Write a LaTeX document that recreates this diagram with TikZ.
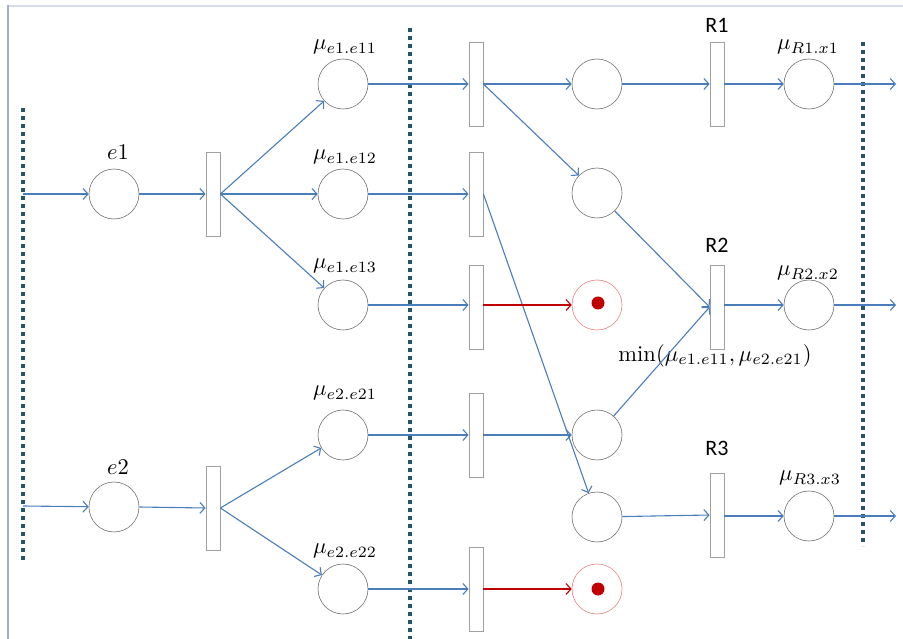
\documentclass[tikz,border=0pt]{standalone}
\usepackage{fontspec}
\newfontfamily\calfont{Carlito}
\usetikzlibrary{arrows.meta}
\definecolor{edgeblue}{RGB}{74,126,187}
\definecolor{darkred}{RGB}{192,0,0}
\definecolor{lightred}{RGB}{232,128,128}
\definecolor{teal}{RGB}{36,88,104}
\definecolor{framebl}{RGB}{160,176,200}
\definecolor{frametop}{RGB}{214,219,232}
\definecolor{placegray}{RGB}{110,110,110}
\definecolor{transgray}{RGB}{160,160,160}
\tikzset{
  place/.style={circle,draw=placegray,line width=0.6pt,minimum size=50pt,inner sep=0pt},
  redplace/.style={circle,draw=lightred,line width=0.6pt,minimum size=50pt,inner sep=0pt},
  trans/.style={rectangle,draw=transgray,line width=0.8pt,minimum width=14pt,minimum height=84pt,inner sep=0pt},
  arc/.style={draw=edgeblue,line width=1.1pt,-{Straight Barb[length=5pt,width=11pt,line width=1.1pt]}},
  redarc/.style={draw=darkred,line width=1.1pt,-{Straight Barb[length=5pt,width=11pt,line width=1.1pt]}},
  sep/.style={draw=teal,line width=4pt,dash pattern=on 4pt off 4pt},
  mlab/.style={scale=2.25,inner sep=0pt},
  rlab/.style={font=\calfont\fontsize{22}{26}\selectfont,inner sep=0pt}
}
\begin{document}
\begin{tikzpicture}[x=1pt,y=-1pt]
\useasboundingbox (0,0) rectangle (903,639);
% frame
\draw[frametop,line width=2pt] (8,6) -- (903,6);
\draw[framebl,line width=1.5pt] (8,5) -- (8,639);
% separators
\draw[sep] (23,108) -- (23,560);
\draw[sep] (410,28) -- (410,639);
\draw[sep] (863,42) -- (863,546);
% input coordinates
\coordinate (in1) at (23,194);
\coordinate (in2) at (23,506);
% places
\node[place] (e1) at (114,194) {};
\node[place] (e2) at (114,507) {};
\node[place] (m11) at (343,84) {};
\node[place] (m12) at (343,194) {};
\node[place] (m13) at (343,305) {};
\node[place] (m21) at (343,435) {};
\node[place] (m22) at (343,589) {};
\node[place] (c1) at (597,84) {};
\node[place] (c2) at (597,193) {};
\node[redplace] (c3) at (597,305) {};
\node[place] (c4) at (597,435) {};
\node[place] (c5) at (597,517) {};
\node[redplace] (c6) at (597,589) {};
\node[place] (o1) at (809,84) {};
\node[place] (o2) at (809,305) {};
\node[place] (o3) at (809,516) {};
\fill[darkred] (c3.center) ++(1,-2) circle (6.5);
\fill[darkred] (c6.center) ++(1,0) circle (6.5);
% transitions
\node[trans] (te1) at (213,194) {};
\node[trans] (te2) at (213,508) {};
\node[trans] (t1) at (476,84) {};
\node[trans] (t2) at (476,194) {};
\node[trans] (t3) at (476,307) {};
\node[trans] (t4) at (476,435) {};
\node[trans] (t5) at (476,589) {};
\node[trans] (r1) at (717,84) {};
\node[trans] (r2) at (717,307) {};
\node[trans] (r3) at (717,515) {};
% output coordinates
\coordinate (out1) at (896,84);
\coordinate (out2) at (896,305);
\coordinate (out3) at (896,516);
% labels
\node[mlab] (le1) at (118,152) {$e1$};
\node[mlab] (le2) at (118,467) {$e2$};
\node[mlab] (l11) at (345,47) {$\mu_{e1.e11}$};
\node[mlab] (l12) at (345,157) {$\mu_{e1.e12}$};
\node[mlab] (l13) at (345,266) {$\mu_{e1.e13}$};
\node[mlab] (l21) at (345,393) {$\mu_{e2.e21}$};
\node[mlab] (l22) at (345,551) {$\mu_{e2.e22}$};
\node[mlab] (lo1) at (808,47) {$\mu_{R1.x1}$};
\node[mlab] (lo2) at (808,273) {$\mu_{R2.x2}$};
\node[mlab] (lo3) at (810,478) {$\mu_{R3.x3}$};
\node[rlab] (lr1) at (717,25) {R1};
\node[rlab] (lr2) at (717,245) {R2};
\node[rlab] (lr3) at (717,448) {R3};
\node[mlab] (lmin) at (715,356) {$\mathrm{min}(\mu_{e1.e11},\mu_{e2.e21})$};
% arcs
\draw[arc] (in1) -- (e1);
\draw[arc] (in2) -- (e2);
\draw[arc] (e1) -- (te1.west);
\draw[arc] (e2.east) -- (te2.west);
\draw[arc] (te1.east) -- (m11);
\draw[arc] (te1.east) -- (m12);
\draw[arc] (te1.east) -- (m13);
\draw[arc] (te2.east) -- (m21);
\draw[arc] (te2.east) -- (m22);
\draw[arc] (m11) -- (t1.west);
\draw[arc] (m12) -- (t2.west);
\draw[arc] (m13) -- (t3.west |- m13);
\draw[arc] (m21) -- (t4.west);
\draw[arc] (m22) -- (t5.west);
\draw[arc] (t1.east) -- (c1);
\draw[arc] (t1.east) -- (c2);
\draw[arc] (t2.east) -- (c5);
\draw[redarc] (t3.east |- c3) -- (c3);
\draw[arc] (t4.east) -- (c4);
\draw[redarc] (t5.east) -- (c6);
\draw[arc] (c1) -- (r1.west);
\draw[arc] (c2) -- (r2.west);
\draw[arc] (c4) -- (r2.west);
\draw[arc] (c5) -- (r3.west);
\draw[arc] (r1.east) -- (o1);
\draw[arc] (r2.east |- o2) -- (o2);
\draw[arc] (r3.east |- o3) -- (o3);
\draw[arc] (o1) -- (out1);
\draw[arc] (o2) -- (out2);
\draw[arc] (o3) -- (out3);
\end{tikzpicture}
\end{document}
